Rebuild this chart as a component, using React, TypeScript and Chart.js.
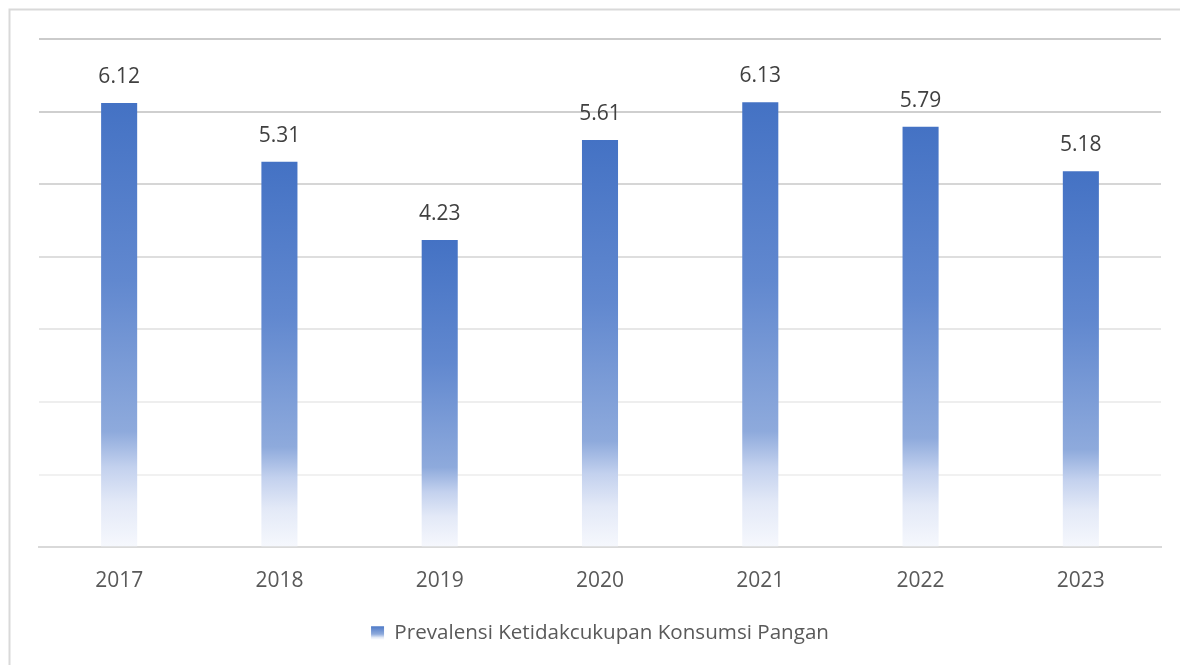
import React, { useEffect, useRef } from "react";
import { Chart, registerables } from "chart.js";

Chart.register(...registerables);

const years = ["2017", "2018", "2019", "2020", "2021", "2022", "2023"];
const prevalence = [6.12, 5.31, 4.23, 5.61, 6.13, 5.79, 5.18];
const seriesLabel = "Prevalensi Ketidakcukupan Konsumsi Pangan";
const yMin = 0;
const yMax = 7;

const FONT = "'Open Sans', 'Noto Sans', sans-serif";
const gridColors = ["#d9d9d9", "#f1f1f1", "#eeeeee", "#e7e7e7", "#dedede", "#d6d6d6", "#cfcfcf", "#cbcbcb"];

function barGradient(ctx: CanvasRenderingContext2D, top: number, bottom: number) {
  const g = ctx.createLinearGradient(0, top, 0, bottom);
  g.addColorStop(0, "#4472c4");
  g.addColorStop(0.4, "#6188cf");
  g.addColorStop(0.74, "#8eaadc");
  g.addColorStop(0.82, "#c3d1ee");
  g.addColorStop(0.9, "#e3e9f7");
  g.addColorStop(1, "#f6f8fd");
  return g;
}

const frame = {
  id: "frame",
  beforeDraw(chart: any) {
    const c = chart.ctx;
    c.save();
    c.fillStyle = "#ffffff";
    c.fillRect(0, 0, chart.width, chart.height);
    c.strokeStyle = "#d9d9d9";
    c.lineWidth = 2;
    c.beginPath();
    c.moveTo(9.5, chart.height);
    c.lineTo(9.5, 9.5);
    c.lineTo(chart.width, 9.5);
    c.stroke();
    c.restore();
  },
};

const valueLabels = {
  id: "valueLabels",
  afterDatasetsDraw(chart: any) {
    const c = chart.ctx;
    const meta = chart.getDatasetMeta(0);
    c.save();
    c.font = `21px ${FONT}`;
    c.fillStyle = "#404040";
    c.textAlign = "center";
    c.textBaseline = "middle";
    meta.data.forEach((el: any, i: number) => {
      c.fillText(prevalence[i].toFixed(2), el.x, el.y - 26);
    });
    c.restore();
  },
};

export default function App() {
  const ref = useRef<HTMLCanvasElement | null>(null);
  useEffect(() => {
    if (!ref.current) return;
    const chart = new Chart(ref.current, {
      type: "bar",
      data: {
        labels: years,
        datasets: [
          {
            label: seriesLabel,
            data: prevalence,
            backgroundColor: (context: any) => {
              const ch = context.chart;
              const ys = ch.scales && ch.scales.y;
              if (!ch.chartArea || !ys || context.type !== "data") return "#4472c4";
              const top = ys.getPixelForValue(context.raw);
              const bottom = ys.getPixelForValue(0);
              return barGradient(ch.ctx, top, bottom);
            },
            borderWidth: 0,
            categoryPercentage: 1,
            barPercentage: 0.225,
          },
        ],
      },
      options: {
        responsive: false,
        animation: false,
        layout: { padding: { left: 39, right: 19, top: 39, bottom: 12 } },
        scales: {
          x: {
            grid: { display: false },
            border: { display: true, color: "#d9d9d9", width: 2 },
            ticks: { color: "#595959", font: { family: FONT, size: 21 }, padding: 13 },
          },
          y: {
            min: yMin,
            max: yMax,
            ticks: { display: false, stepSize: 1 },
            border: { display: false },
            grid: {
              drawTicks: false,
              lineWidth: 2,
              color: (ctx: any) => gridColors[Math.round(ctx.tick ? ctx.tick.value : 0)] || "#d9d9d9",
            },
            afterFit: (s: any) => {
              s.width = 0;
            },
          },
        },
        plugins: {
          tooltip: { enabled: false },
          legend: {
            position: "bottom",
            labels: {
              color: "#595959",
              font: { family: FONT, size: 20.6 },
              boxWidth: 13,
              boxHeight: 13,
              padding: 16,
              generateLabels: (ch: any) => {
                const g = ch.ctx.createLinearGradient(0, 625, 0, 638);
                g.addColorStop(0, "#4472c4");
                g.addColorStop(0.7, "#8eaadc");
                g.addColorStop(1, "#eef2fa");
                return [
                  {
                    text: seriesLabel,
                    fillStyle: g,
                    strokeStyle: "rgba(0,0,0,0)",
                    lineWidth: 0,
                    fontColor: "#595959",
                    datasetIndex: 0,
                    hidden: false,
                  },
                ];
              },
            },
          },
        },
      },
      plugins: [frame, valueLabels],
    });
    return () => chart.destroy();
  }, []);
  return (
    <canvas
      ref={ref}
      width={1180}
      height={665}
      style={{ position: "fixed", left: 0, top: 0, display: "block", width: 1180, height: 665 }}
    />
  );
}
